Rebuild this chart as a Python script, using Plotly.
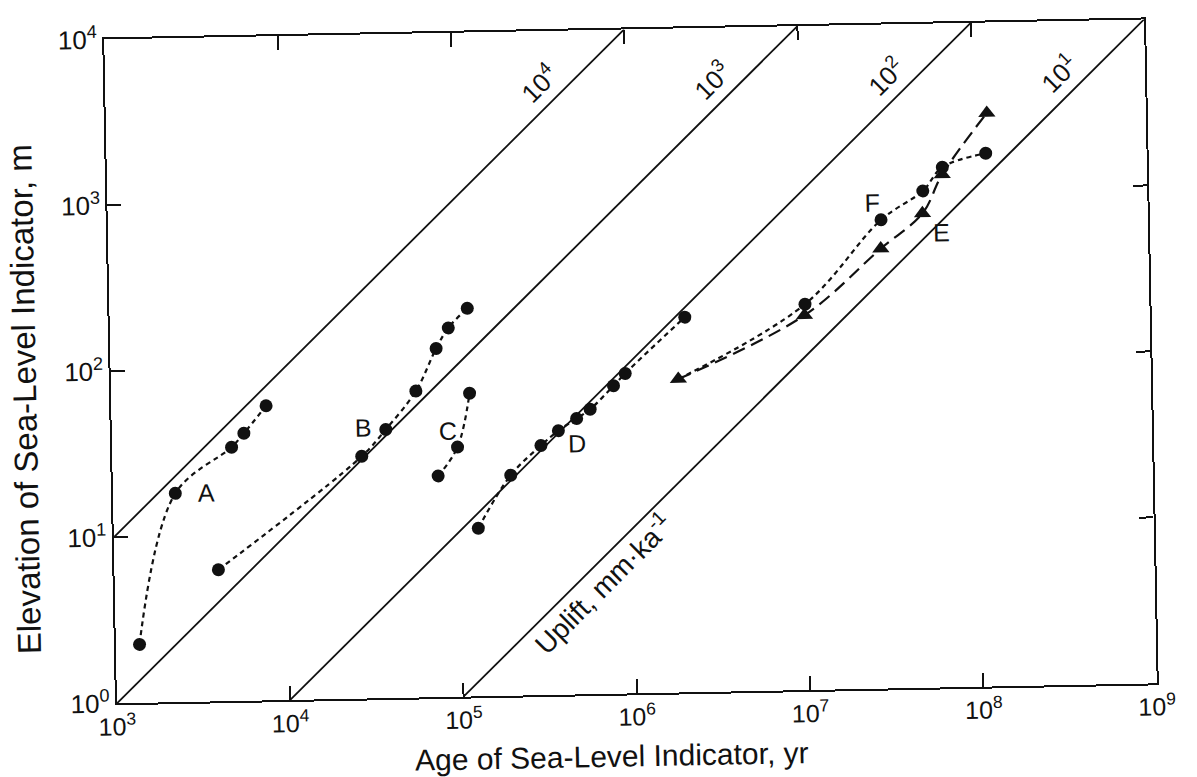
import math
import plotly.graph_objects as go

# Age (yr) and elevation (m) of dated sea-level indicators, one pair of lists per site
a_age = [1370, 2290, 4890, 5780, 7820]
a_elev = [2.25, 18.1, 33.8, 40.9, 59.5]

b_age = [3980, 27500, 38100, 57400, 75900, 89700, 116000]
b_elev = [6.2, 28.8, 41.5, 70.2, 126, 167, 218]

c_age = [75500, 98400, 117000]
c_elev = [21.5, 31.9, 67.1]

d_age = [127000, 198000, 298000, 377000, 482000, 578000, 793000, 929000, 2080000]
d_elev = [10.3, 21.3, 31.9, 39.0, 45.9, 52.0, 71.6, 84.7, 182]

e_age = [1.88e6, 1.02e7, 2.86e7, 5.02e7, 6.59e7, 1.21e8]
e_elev = [77.3, 181, 447, 721, 1230, 2850]

# F starts from the first E point; its own dated points follow
f_age = [1.88e6, 1.03e7, 2.89e7, 5.07e7, 6.61e7, 1.18e8]
f_elev = [77.3, 211, 666, 984, 1360, 1630]

# Constant uplift rates, mm/ka
uplift_rates = [1e4, 1e3, 1e2, 1e1]
uplift_labels = ["10<sup>4</sup>", "10<sup>3</sup>", "10<sup>2</sup>", "10<sup>1</sup>"]

age_ticks = [1e3, 1e4, 1e5, 1e6, 1e7, 1e8, 1e9]
age_ticktext = ["10<sup>3</sup>", "10<sup>4</sup>", "10<sup>5</sup>", "10<sup>6</sup>",
                "10<sup>7</sup>", "10<sup>8</sup>", "10<sup>9</sup>"]
elev_ticks = [1, 10, 100, 1000, 10000]
elev_ticktext = ["10<sup>0</sup>", "10<sup>1</sup>", "10<sup>2</sup>", "10<sup>3</sup>", "10<sup>4</sup>"]

site_names = ["A", "B", "C", "D", "E", "F"]
site_label_pos = [(3.54, 1.26), (4.45, 1.63), (4.94, 1.60),
                  (5.68, 1.51), (7.81, 2.74), (7.41, 2.93)]

x_title = "Age of Sea-Level Indicator, yr"
y_title = "Elevation of Sea-Level Indicator, m"

AGE_MIN, AGE_MAX = 1e3, 1e9
ELEV_MIN, ELEV_MAX = 1.0, 1e4
FONT = "Liberation Sans, Arial, Helvetica, sans-serif"
INK = "#111111"

fig = go.Figure()

# Iso-uplift lines: elevation (m) = rate (mm/ka) * age (yr) / 1e6
for r in uplift_rates:
    start = max(AGE_MIN, ELEV_MIN * 1e6 / r)
    end = min(AGE_MAX, ELEV_MAX * 1e6 / r)
    fig.add_trace(go.Scatter(
        x=[start, end], y=[start * r / 1e6, end * r / 1e6],
        mode="lines", line=dict(color=INK, width=1.8),
        hoverinfo="skip", showlegend=False))

short_dash = "5px,4px"
long_dash = "13px,7px"


def site_line(x, y, dash):
    fig.add_trace(go.Scatter(
        x=x, y=y, mode="lines",
        line=dict(color=INK, width=2.2, dash=dash, shape="spline", smoothing=1.0),
        hoverinfo="skip", showlegend=False))


def site_points(x, y, symbol, size):
    fig.add_trace(go.Scatter(
        x=x, y=y, mode="markers",
        marker=dict(color=INK, size=size, symbol=symbol, line=dict(width=0)),
        showlegend=False))


for ages, elevs in [(a_age, a_elev), (b_age, b_elev), (c_age, c_elev), (d_age, d_elev)]:
    site_line(ages, elevs, short_dash)
    site_points(ages, elevs, "circle", 13)

site_line(f_age, f_elev, short_dash)
site_line(e_age, e_elev, long_dash)
site_points(f_age[1:], f_elev[1:], "circle", 13)
site_points(e_age, e_elev, "triangle-up", 15)

annotations = []

# Rate labels near the upper end of each line
for r, lab in zip(uplift_rates, uplift_labels):
    el = 10 ** 3.5
    annotations.append(dict(
        x=math.log10(el * 1e6 / r), y=3.5, text=lab,
        xref="x", yref="y", showarrow=False, textangle=-44,
        yshift=31, font=dict(size=26, color=INK, family=FONT)))

u_age = 10 ** 5.817
annotations.append(dict(
    x=math.log10(u_age), y=math.log10(u_age * uplift_rates[-1] / 1e6),
    text="Uplift, mm·ka<sup>-1</sup>", xref="x", yref="y", showarrow=False,
    textangle=-44, yshift=-25, font=dict(size=28, color=INK, family=FONT)))

for name, (lx, ly) in zip(site_names, site_label_pos):
    annotations.append(dict(x=lx, y=ly, text=name, xref="x", yref="y",
                            showarrow=False,
                            font=dict(size=25, color=INK, family=FONT)))

# Axis titles
annotations.append(dict(x=0.475, y=-0.0935, xref="paper", yref="paper",
                        xanchor="center", yanchor="middle", showarrow=False,
                        borderpad=0,
                        text=x_title, font=dict(size=30, color=INK, family=FONT)))
annotations.append(dict(x=-0.083, y=0.46, xref="paper", yref="paper",
                        xanchor="center", yanchor="middle", showarrow=False,
                        textangle=-90, borderpad=0,
                        text=y_title, font=dict(size=33, color=INK, family=FONT)))

fig.update_layout(
    width=1197, height=777,
    margin=dict(l=111, r=46, t=19, b=83),
    paper_bgcolor="white", plot_bgcolor="white",
    font=dict(family=FONT, color=INK),
    annotations=annotations,
    xaxis=dict(
        type="log", range=[3, 9],
        tickvals=age_ticks, ticktext=age_ticktext,
        ticks="inside", ticklen=14, tickwidth=1.6, tickcolor=INK,
        showline=True, linewidth=2.2, linecolor=INK, mirror="ticks",
        showgrid=False, zeroline=False, ticklabelstandoff=0,
        tickfont=dict(size=25, family=FONT, color=INK),
    ),
    yaxis=dict(
        type="log", range=[0, 4],
        tickvals=elev_ticks, ticktext=elev_ticktext,
        ticks="inside", ticklen=14, tickwidth=1.6, tickcolor=INK,
        showline=True, linewidth=2.2, linecolor=INK, mirror="ticks",
        showgrid=False, zeroline=False,
        tickfont=dict(size=26, family=FONT, color=INK),
    ),
)

# The printed figure sits slightly askew on the page
tilt = """
var gd = document.getElementsByClassName('plotly-graph-div')[0];
gd.style.transform = 'rotate(-1.1deg)';
gd.style.transformOrigin = '50% 50%';
"""

fig.write_html("out.html", post_script=tilt)
